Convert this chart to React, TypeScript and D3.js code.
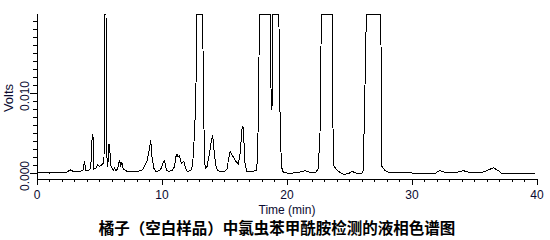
import React from "react";
import * as d3 from "d3";

// Chromatogram trace: retention time (min) and detector signal (Volts)
const times = [
  0, 0.5, 1.0, 1.5, 2.0, 2.4, 2.65, 2.9, 3.2, 3.5, 3.7, 3.8, 3.9, 4.1, 4.3, 4.42, 4.48, 4.55,
  4.7, 4.85, 5.0, 5.15, 5.3, 5.36, 5.4, 5.43, 5.52, 5.57, 5.66, 5.76, 5.82, 5.9, 6.0, 6.1, 6.2,
  6.3, 6.45, 6.6, 6.7, 6.8, 6.9, 7.0, 7.2, 7.6, 8.0, 8.3, 8.5, 8.8, 9.0, 9.1, 9.2, 9.35, 9.5,
  9.8, 9.95, 10.1, 10.2, 10.35, 10.5, 10.8, 11.0, 11.1, 11.2, 11.3, 11.4, 11.55, 11.75, 11.85,
  12.0, 12.3, 12.45, 12.6, 12.7, 12.8, 13.25, 13.3, 13.36, 13.45, 13.6, 13.75, 13.95, 14.05,
  14.15, 14.3, 14.45, 14.7, 15.0, 15.2, 15.3, 15.45, 15.55, 15.7, 15.9, 16.1, 16.25, 16.4,
  16.47, 16.52, 16.65, 16.8, 17.2, 17.55, 17.65, 17.72, 17.8, 18.68, 18.72, 18.8, 18.86, 19.35,
  19.42, 19.55, 19.7, 20.0, 20.5, 21.0, 21.45, 21.8, 22.3, 22.5, 22.64, 22.75, 23.62, 23.7, 23.97,
  24.3, 24.6, 25.0, 25.2, 25.5, 26.0, 26.1, 26.2, 26.35, 27.5, 27.6, 27.85, 28.2, 29.0, 30.0,
  31.0, 31.9, 32.2, 32.6, 33.0, 33.6, 34.1, 34.5, 35.0, 35.6, 36.0, 36.5, 36.9, 37.2, 38.0,
  39.0, 39.85,
];
const volts = [
  0.0, 0.00002, 0.0, 0.00003, 0.00002, 0.0001, 0.0004, 0.0002, 0.0002, 0.0002, 0.0004, 0.0015,
  0.0003, 0.0003, 0.0006, 0.0048, 0.0045, 0.0005, 0.0006, 0.001, 0.0008, 0.001, 0.0012, 0.0018,
  0.0115, 0.03, 0.03, 0.0025, 0.0008, 0.0036, 0.003, 0.0009, 0.0006, 0.0003, 0.0006, 0.0003,
  0.0005, 0.0016, 0.0009, 0.0013, 0.0005, 0.0004, 0.0002, 0.0002, 0.0002, 0.0003, 0.0005,
  0.0015, 0.003, 0.0041, 0.002, 0.0006, 0.0002, 0.0003, 0.0006, 0.0013, 0.0015, 0.0004, 0.0002,
  0.0003, 0.0008, 0.002, 0.0023, 0.002, 0.0022, 0.0012, 0.0015, 0.0008, 0.0002, 0.0003, 0.001,
  0.005, 0.009, 0.03, 0.03, 0.0127, 0.0055, 0.0006, 0.0008, 0.002, 0.004, 0.0048, 0.003, 0.001,
  0.0003, 0.0002, 0.0002, 0.0005, 0.0015, 0.0027, 0.0024, 0.002, 0.0015, 0.0011, 0.0025, 0.0055,
  0.0059, 0.005, 0.001, 0.0002, 0.0002, 0.0003, 0.002, 0.009, 0.03, 0.03, 0.0106, 0.0079, 0.03,
  0.03, 0.009, 0.0008, 0.0001, 0.0, 0.0, 0.0001, 0.0003, 0.0001, 0.0001, 0.0005, 0.005, 0.03, 0.03,
  0.001, 0.0004, 0.0, -0.0002, 0.0, 0.0002, 0.0, 0.0, 0.0003, 0.0077, 0.03, 0.03, 0.0008, 0.0003,
  0.0, 0.0001, 0.0, 0.0, 0.0, 0.0003, 0.0001, 0.0, 0.0001, 0.0003, 0.0001, 0.0, 0.0001, 0.0003,
  0.00066, 0.0003, -0.0001, -0.0001, -0.0001, -0.0001,
];

const xTickLabels = ["0", "10", "20", "30", "40"];
const yTickLabels = ["0.000", "0.010"];
const xTitle = "Time (min)";
const yTitle = "Volts";
const chartTitle = "橘子（空白样品）中氯虫苯甲酰胺检测的液相色谱图";

const W = 550;
const H = 240;
const X0 = 37;
const X1 = 537;
const Y_TOP = 14;
const Y_AXIS = 179;

export default function App() {
  const x = d3.scaleLinear().domain([0, 40]).range([X0, X1]);
  const y = d3
    .scaleLinear()
    .domain([-0.00075, 0.019875])
    .range([Y_AXIS, Y_TOP])
    .clamp(true);

  const pts: [number, number][] = times.map((t, i) => [t, volts[i]]);
  const line = d3
    .line<[number, number]>()
    .x((d) => x(d[0]))
    .y((d) => y(d[1]));

  const xMinor = x.ticks(40);
  const yMinor = y.ticks(20).filter((v) => v >= 0);
  const xMajor = xTickLabels.map((s) => +s);
  const yMajor = yTickLabels.map((s) => +s);
  const textColor = "#0a0a30";
  const font = "'Liberation Sans', Arial, sans-serif";

  return (
    <svg
      width={W}
      height={H}
      style={{ position: "absolute", left: 0, top: 0, background: "#fff" }}
    >
      <rect width={W} height={H} fill="#fff" />
      {/* trace */}
      <path
        d={line(pts) || ""}
        fill="none"
        stroke="#000"
        strokeWidth={1}
        shapeRendering="crispEdges"
      />
      {/* axes */}
      <g shapeRendering="crispEdges" stroke="#000" strokeWidth={1}>
        <line x1={X0} x2={X1} y1={Y_AXIS} y2={Y_AXIS} />
        <line x1={X0} x2={X0} y1={Y_TOP} y2={Y_AXIS} />
        {xMinor.map((t) => (
          <line key={"xm" + t} x1={x(t)} x2={x(t)} y1={Y_AXIS} y2={Y_AXIS + (t % 10 === 0 ? 6 : 3)} />
        ))}
        {yMinor.map((v, i) => (
          <line
            key={"ym" + i}
            x1={X0}
            x2={X0 - (yMajor.some((m) => Math.abs(m - v) < 1e-9) ? 7 : 4)}
            y1={y(v)}
            y2={y(v)}
          />
        ))}
      </g>
      {/* x tick labels */}
      {xMajor.map((t, i) => (
        <text
          key={"xl" + t}
          x={x(t)}
          y={199}
          textAnchor="middle"
          fontFamily={font}
          fontSize={12}
          fill={textColor}
        >
          {xTickLabels[i]}
        </text>
      ))}
      {/* y tick labels */}
      {yMajor.map((v, i) => (
        <text
          key={"yl" + i}
          transform={`translate(29,${y(v) + 3}) rotate(-90)`}
          textAnchor="middle"
          fontFamily={font}
          fontSize={12}
          fill={textColor}
        >
          {yTickLabels[i]}
        </text>
      ))}
      <text
        x={x(20)}
        y={214}
        textAnchor="middle"
        fontFamily={font}
        fontSize={12}
        fill={textColor}
      >
        {xTitle}
      </text>
      <text
        transform={`translate(13,98) rotate(-90)`}
        textAnchor="middle"
        fontFamily={font}
        fontSize={13}
        fill={textColor}
      >
        {yTitle}
      </text>
      <text
        x={277}
        y={234}
        textAnchor="middle"
        fontFamily="'Noto Sans CJK SC', sans-serif"
        fontWeight="bold"
        fontSize={15.5}
        fill="#000"
      >
        {chartTitle}
      </text>
    </svg>
  );
}
